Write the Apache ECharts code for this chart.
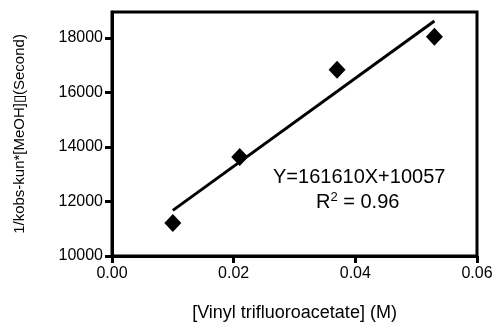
<!DOCTYPE html>
<html>
<head>
<meta charset="utf-8">
<script src="https://cdn.jsdelivr.net/npm/echarts@6/dist/echarts.min.js"></script>
<style>
  html, body { margin: 0; padding: 0; background: #fff; }
  #box { width: 498px; height: 323px; }
</style>
</head>
<body>
<div id="box"></div>
<script>
// 数据
var concX = [0.010, 0.021, 0.037, 0.053];
var invK = [11210, 13630, 16830, 18040];
var fitX = [0.010, 0.053];
var fitY = [11673, 18622];
var yTicks = [10000, 12000, 14000, 16000, 18000];
var xTicks = [0, 0.02, 0.04, 0.06];

var myChart = echarts.init(document.getElementById("box"));
var font = "Liberation Sans, Arial, sans-serif";

var option = {
  animation: false,
  grid: {
    left: 112,
    right: 21,
    top: 12,
    bottom: 67,
    show: true,
    borderColor: "#000",
    borderWidth: 3,
    outerBoundsMode: "none",
  },
  xAxis: {
    type: "value",
    min: 0,
    max: 0.06,
    interval: 0.02,
    name: "[Vinyl trifluoroacetate] (M)",
    nameLocation: "middle",
    nameGap: 48,
    nameTextStyle: { color: "#000", fontSize: 18, fontFamily: font },
    axisLine: { lineStyle: { color: "#000", width: 3 } },
    axisTick: { length: 7, lineStyle: { color: "#000", width: 3 }, customValues: xTicks },
    axisLabel: {
      color: "#000",
      fontSize: 16,
      fontFamily: font,
      margin: 10,
      customValues: xTicks,
      formatter: function (v) { return v.toFixed(2); },
    },
    splitLine: { show: false },
  },
  yAxis: {
    type: "value",
    min: 10000,
    max: 18950,
    name: "1/kobs-kun*[MeOH]\u25AF(Second)",
    nameLocation: "middle",
    nameGap: 85,
    nameTextStyle: { color: "#000", fontSize: 15, fontFamily: font },
    axisLine: { lineStyle: { color: "#000", width: 3 } },
    axisTick: { length: 7, lineStyle: { color: "#000", width: 3 }, customValues: yTicks },
    axisLabel: {
      color: "#000",
      fontSize: 16,
      fontFamily: font,
      margin: 9,
      customValues: yTicks,
      formatter: function (v) { return String(v); },
    },
    splitLine: { show: false },
  },
  graphic: [
    {
      type: "text",
      left: 273,
      top: 167,
      style: {
        text: "Y=161610X+10057",
        fill: "#000",
        font: "20px " + font,
      },
    },
    {
      type: "text",
      left: 316,
      top: 191,
      style: {
        text: "R{sup|2} = 0.96",
        fill: "#000",
        font: "20px " + font,
        rich: {
          sup: { fontSize: 13, verticalAlign: "top", padding: [0, 0, 9, 0], fontFamily: font },
        },
      },
    },
  ],
  series: [
    {
      type: "line",
      data: fitX.map(function (x, i) { return [x, fitY[i]]; }),
      showSymbol: false,
      lineStyle: { color: "#000", width: 3 },
      z: 2,
    },
    {
      type: "scatter",
      data: concX.map(function (x, i) { return [x, invK[i]]; }),
      symbol: "diamond",
      symbolSize: [17, 18],
      itemStyle: { color: "#000", opacity: 1 },
      z: 3,
    },
  ],
};

myChart.setOption(option);
</script>
</body>
</html>
